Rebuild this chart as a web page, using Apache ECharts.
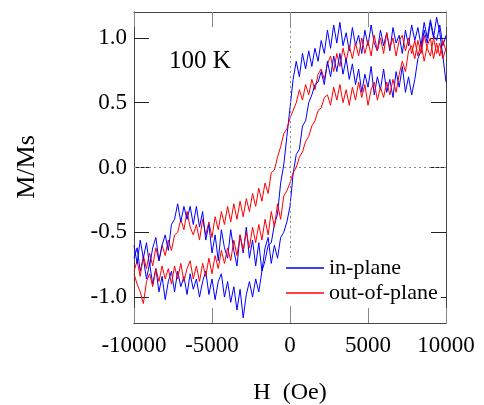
<!DOCTYPE html>
<html>
<head>
<meta charset="utf-8">
<script src="https://cdn.jsdelivr.net/npm/echarts@6/dist/echarts.min.js"></script>
<style>html,body{margin:0;padding:0;background:#fff}#c{width:484px;height:405px}</style>
</head>
<body>
<div id="c"></div>
<script>
// Field values (Oe), shared by all branches
const fieldOe = [-10000,-9800,-9600,-9400,-9200,-9000,-8800,-8600,-8400,-8200,
-8000,-7800,-7600,-7400,-7200,-7000,-6800,-6600,-6400,-6200,
-6000,-5800,-5600,-5400,-5200,-5000,-4800,-4600,-4400,-4200,
-4000,-3800,-3600,-3400,-3200,-3000,-2800,-2600,-2400,-2200,
-2000,-1800,-1600,-1400,-1200,-1000,-800,-600,-400,-200,
0,200,400,600,800,1000,1200,1400,1600,1800,
2000,2200,2400,2600,2800,3000,3200,3400,3600,3800,
4000,4200,4400,4600,4800,5000,5200,5400,5600,5800,
6000,6200,6400,6600,6800,7000,7200,7400,7600,7800,
8000,8200,8400,8600,8800,9000,9200,9400,9600,9800,10000];

// In-plane, ascending branch
const inPlaneUp = [-0.60,-0.74,-0.56,-0.70,-0.58,-0.76,-0.62,-0.54,-0.72,-0.60,
-0.52,-0.64,-0.44,-0.40,-0.28,-0.42,-0.30,-0.40,-0.30,-0.44,
-0.30,-0.46,-0.34,-0.56,-0.44,-0.66,-0.52,-0.72,-0.48,-0.62,
-0.70,-0.48,-0.64,-0.76,-0.52,-0.66,-0.46,-0.70,-0.56,-0.76,
-0.58,-0.80,-0.62,-0.54,-0.74,-0.60,-0.70,-0.54,-0.50,-0.42,
-0.30,-0.05,0.10,0.14,0.32,0.36,0.50,0.56,0.64,0.66,
0.74,0.64,0.82,0.70,0.86,0.74,0.88,0.72,0.84,0.68,
0.80,0.64,0.76,0.58,0.72,0.62,0.78,0.56,0.70,0.60,
0.76,0.58,0.68,0.54,0.74,0.62,0.78,0.58,0.70,0.56,
0.68,0.84,0.90,1.06,0.96,1.12,1.00,1.16,1.04,0.86,0.66];

// In-plane, descending branch
const inPlaneDown = [-0.70,-0.62,-0.80,-0.70,-0.86,-0.74,-0.90,-0.78,-0.96,-0.84,
-1.02,-0.88,-0.80,-0.96,-0.80,-0.92,-0.84,-0.98,-0.82,-0.94,
-0.86,-1.00,-0.88,-0.80,-0.98,-0.86,-1.02,-0.88,-0.82,-1.00,
-0.88,-1.04,-0.92,-1.10,-0.94,-1.16,-0.98,-0.88,-1.00,-0.86,
-0.96,-0.80,-0.72,-0.60,-0.58,-0.44,-0.36,-0.12,0.02,0.24,
0.46,0.68,0.82,0.70,0.88,0.76,0.90,0.78,0.92,0.82,
0.98,0.88,1.06,0.92,1.10,0.96,1.12,0.94,1.04,0.90,
1.08,0.94,1.02,0.88,1.06,0.94,1.10,0.96,0.90,1.06,
0.94,1.04,0.90,1.08,0.96,1.02,0.88,1.06,0.94,1.10,
0.98,1.08,0.94,1.12,1.00,1.14,1.02,0.98,1.10,0.94,1.02];

// Out-of-plane, ascending branch
const outPlaneUp = [-0.82,-0.90,-0.96,-1.05,-0.88,-0.82,-0.92,-0.78,-0.88,-0.76,
-0.86,-0.78,-0.90,-0.76,-0.86,-0.74,-0.88,-0.78,-0.72,-0.86,
-0.76,-0.88,-0.74,-0.84,-0.70,-0.82,-0.68,-0.78,-0.64,-0.74,
-0.62,-0.72,-0.56,-0.68,-0.52,-0.64,-0.50,-0.62,-0.46,-0.58,
-0.44,-0.56,-0.40,-0.52,-0.34,-0.46,-0.28,-0.40,-0.22,-0.18,
-0.12,-0.04,0.00,0.08,0.12,0.20,0.24,0.32,0.36,0.44,
0.46,0.54,0.56,0.48,0.62,0.52,0.64,0.50,0.60,0.48,
0.62,0.52,0.66,0.54,0.64,0.48,0.60,0.66,0.52,0.62,
0.54,0.66,0.56,0.68,0.58,0.72,0.82,0.74,0.90,0.94,
0.84,0.98,0.88,1.02,0.92,0.86,1.00,0.88,0.96,0.84,0.92];

// Out-of-plane, descending branch
const outPlaneDown = [-0.80,-0.72,-0.84,-0.68,-0.78,-0.66,-0.76,-0.62,-0.72,-0.60,
-0.68,-0.56,-0.64,-0.52,-0.50,-0.40,-0.48,-0.34,-0.46,-0.52,
-0.44,-0.56,-0.40,-0.52,-0.42,-0.54,-0.38,-0.48,-0.34,-0.44,
-0.30,-0.42,-0.28,-0.40,-0.26,-0.38,-0.24,-0.34,-0.20,-0.30,
-0.16,-0.26,-0.12,-0.20,-0.04,-0.02,0.08,0.16,0.26,0.30,
0.38,0.44,0.50,0.60,0.52,0.64,0.56,0.68,0.60,0.72,
0.76,0.68,0.80,0.86,0.74,0.88,0.78,0.92,0.82,0.94,
0.84,0.96,0.86,1.00,0.88,0.98,0.86,1.02,0.90,1.00,
0.88,1.04,0.92,1.00,0.86,0.98,1.02,0.90,1.00,0.88,
0.98,0.86,0.96,0.82,0.94,1.00,0.84,0.96,0.86,0.98,0.90];

const xTicks = [-10000,-5000,0,5000,10000];
const yTicks = [-1.0,-0.5,0.0,0.5,1.0];
const seriesNames = ['in-plane','out-of-plane'];
const annotation = '100 K';
const xTitle = 'H  (Oe)';
const yTitle = 'M/Ms';

const pair = arr => fieldOe.map((h,i)=>[h,arr[i]]);
const FONT = "'Liberation Serif','Times New Roman',serif";
const BLUE = '#0000ff', RED = '#ff0000';

const chart = echarts.init(document.getElementById('c'), null, {renderer:'canvas'});

function xAx(pos, showLabel){
  return {type:'value', position:pos, min:-10000, max:10000,
    axisLine:{show:true, onZero:false, lineStyle:{color:'#444', width:1}},
    axisTick:{show:true, inside:true, length:15, customValues:xTicks, lineStyle:{color:'#888'}},
    axisLabel:{show:showLabel, customValues:xTicks, margin:11, color:'#000', fontFamily:FONT, fontSize:23,
      formatter:v=>String(v)},
    splitLine:{show:false}};
}
function yAx(pos, showLabel){
  return {type:'value', position:pos, min:-1.2, max:1.2,
    axisLine:{show:true, onZero:false, lineStyle:{color:'#444', width:1}},
    axisTick:{show:true, inside:true, length:15, customValues:yTicks, lineStyle:{color:'#222'}},
    axisLabel:{show:showLabel, customValues:yTicks, margin:7, color:'#000', fontFamily:FONT, fontSize:23,
      formatter:v=>v.toFixed(1)},
    splitLine:{show:false}};
}

const lineSeries = (name, data, color, extra) => Object.assign({
  name, type:'line', data, showSymbol:false, symbol:'none', smooth:false,
  lineStyle:{color, width:1}, itemStyle:{color}, clip:true, z:3
}, extra||{});

chart.setOption({
  animation:false,
  backgroundColor:'#fff',
  grid:{left:134, right:38, top:12, bottom:82, containLabel:false},
  xAxis:[xAx('bottom', true), xAx('top', false)],
  yAxis:[yAx('left', true), yAx('right', false)],
  legend:{
    orient:'vertical', left:283, top:257, padding:[0,3,0,3],
    backgroundColor:'#fff', itemWidth:38, itemHeight:1.5, itemGap:3,
    icon:'rect', data:seriesNames,
    textStyle:{fontFamily:FONT, fontSize:22, color:'#000'},
    z:10
  },
  graphic:[
    {type:'text', x:169, y:61, style:{text:annotation, font:"25px 'Liberation Serif', serif", fill:'#000', verticalAlign:'middle'}},
    {type:'text', x:290, y:393, style:{text:xTitle, font:"24px 'Liberation Serif', serif", fill:'#000', align:'center', verticalAlign:'middle'}},
    {type:'text', x:27, y:167, rotation:Math.PI/2, style:{text:yTitle, font:"26px 'Liberation Serif', serif", fill:'#000', align:'center', verticalAlign:'middle'}}
  ],
  series:[
    lineSeries(seriesNames[0], pair(inPlaneDown), BLUE, {
      markLine:{silent:true, symbol:'none', label:{show:false},
        lineStyle:{color:'#888', type:[2,3], width:1},
        data:[{xAxis:0},{yAxis:0}]}, z:2}),
    lineSeries(seriesNames[1], pair(outPlaneDown), RED),
    lineSeries(seriesNames[0], pair(inPlaneUp), BLUE),
    lineSeries(seriesNames[1], pair(outPlaneUp), RED)
  ]
});
</script>
</body>
</html>
